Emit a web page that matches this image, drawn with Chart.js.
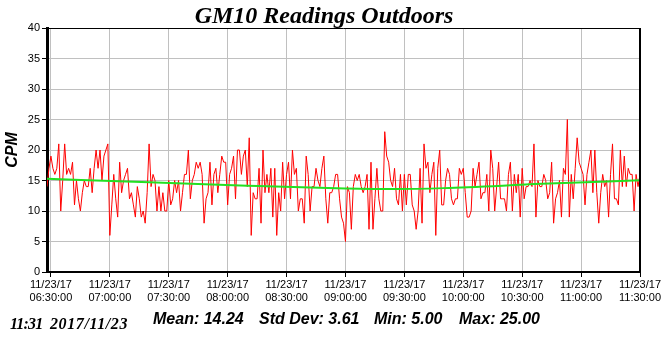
<!DOCTYPE html>
<html>
<head>
<meta charset="utf-8">
<script src="https://cdn.jsdelivr.net/npm/chart.js@4.4.0/dist/chart.umd.min.js"></script>
<style>
    html, body { margin: 0; padding: 0; background: #fff; }
    #wrap { position: relative; width: 661px; height: 337px; overflow: hidden; }
    canvas { position: absolute; left: 0; top: 0; }
    .txt { position: absolute; white-space: pre; color: #000; }
    #title { left: 0; width: 648px; top: 3px; text-align: center; font: bold italic 24px/24px "Liberation Serif", serif; }
    .stamp { top: 316px; font: bold italic 16px/16px "Liberation Serif", serif; }
    .stat { top: 311px; font: bold italic 16px/16px "Liberation Sans", Arial, sans-serif; }
</style>
</head>
<body>
<div id="wrap">
    <canvas id="gmChart" width="661" height="337"></canvas>
    <div id="title" class="txt">GM10 Readings Outdoors</div>
    <div class="txt stamp" style="left:10px; letter-spacing:-0.8px">11:31</div>
    <div class="txt stamp" style="left:50px; letter-spacing:0.6px">2017/11/23</div>
    <div class="txt stat" style="left:153px">Mean: 14.24</div>
    <div class="txt stat" style="left:259px">Std Dev: 3.61</div>
    <div class="txt stat" style="left:374px">Min: 5.00</div>
    <div class="txt stat" style="left:459px">Max: 25.00</div>
</div>
<script>
// Readings, one per minute, first one at 06:28 (minute -2 from 06:30)
const startMinute = -2;
const readings = [
    14,17,19,17,16,17,21,10,15,21,16,17,16,18,11,15,12,10,13,15,14,14,17,13,17,20,17,20,15,19,20,21,6,
    11,16,12,9,18,13,15,16,17,12,13,11,9,14,12,9,10,8,13,21,14,16,
    15,10,14,10,13,10,10,15,11,12,15,13,15,10,13,16,16,20,12,15,16,18,17,18,16,8,12,13,18,
    11,16,17,13,16,19,18,18,11,16,17,19,12,20,20,16,19,20,14,22,6,
    13,12,12,17,8,20,13,16,13,17,9,17,6,13,10,18,12,16,18,12,20,16,17,10,12,12,8,19,16,10,
    14,14,17,15,14,17,19,12,8,13,13,14,16,16,12,9,8,5,14,13,
    7,14,16,15,16,14,13,14,16,7,18,7,12,17,12,10,10,23,19,18,15,14,17,12,11,16,10,16,11,16,
    16,11,10,7,10,17,8,21,17,18,13,16,18,6,17,20,11,11,15,17,16,
    12,11,12,12,17,16,17,13,9,9,10,17,14,16,18,12,13,13,16,10,20,17,10,14,18,12,12,12,10,
    16,18,10,16,13,16,9,17,12,14,14,15,14,21,9,15,14,14,16,15,12,
    13,18,8,12,13,15,9,17,16,25,9,16,12,17,22,18,17,16,11,16,18,20,13,20,13,8,13,16,14,15,
    9,16,21,12,12,11,20,14,19,14,17,16,16,10,16,14,16
];

// Smoothed trend (green)
const trendMinutes = [-2, 50, 100, 150, 175, 200, 250, 300];
const trendValues = [15.3, 14.7, 14.15, 13.7, 13.6, 13.75, 14.45, 15.05];

// X axis ticks (minutes from 06:30) and their labels
const xTickMinutes = [0, 30, 60, 90, 120, 150, 180, 210, 240, 270, 300];
const xTickLabels = [
    ['11/23/17', '06:30:00'], ['11/23/17', '07:00:00'], ['11/23/17', '07:30:00'],
    ['11/23/17', '08:00:00'], ['11/23/17', '08:30:00'], ['11/23/17', '09:00:00'],
    ['11/23/17', '09:30:00'], ['11/23/17', '10:00:00'], ['11/23/17', '10:30:00'],
    ['11/23/17', '11:00:00'], ['11/23/17', '11:30:00']
];

const readingPoints = readings.map((v, i) => ({ x: startMinute + i, y: v }));
const trendPoints = trendMinutes.map((m, i) => ({ x: m, y: trendValues[i] }));

// black frame on top and right of the plot
const framePlugin = {
    id: 'framePlugin',
    afterDraw(chart) {
        const { ctx, chartArea: { top, bottom, left, right } } = chart;
        ctx.save();
        ctx.strokeStyle = '#000';
        ctx.lineWidth = 1;
        ctx.beginPath();
        ctx.moveTo(left, top + 0.5);
        ctx.lineTo(right, top + 0.5);
        ctx.stroke();
        ctx.lineWidth = 2;
        ctx.beginPath();
        ctx.moveTo(right, top);
        ctx.lineTo(right, bottom);
        ctx.stroke();
        ctx.restore();
    }
};

const tickFont = { family: '"Liberation Sans", Arial, sans-serif', size: 11 };

new Chart(document.getElementById('gmChart'), {
    type: 'scatter',
    data: {
        datasets: [
            {
                label: 'Trend',
                data: trendPoints,
                showLine: true,
                borderColor: '#22e022',
                borderWidth: 2,
                pointRadius: 0,
                cubicInterpolationMode: 'monotone'
            },
            {
                label: 'CPM',
                data: readingPoints,
                showLine: true,
                borderColor: '#ff0000',
                borderWidth: 1,
                pointRadius: 0,
                tension: 0
            }
        ]
    },
    options: {
        responsive: false,
        animation: false,
        devicePixelRatio: 1,
        layout: { padding: { left: 0, right: 21, top: 28, bottom: 25 } },
        scales: {
            x: {
                type: 'linear',
                min: startMinute,
                max: 300,
                afterBuildTicks: (scale) => {
                    scale.ticks = xTickMinutes.map(value => ({ value }));
                },
                afterFit: (scale) => {
                    scale.height = 40;
                    scale.paddingLeft = 0;
                    scale.paddingRight = 0;
                },
                ticks: {
                    color: '#000',
                    font: tickFont,
                    maxRotation: 0,
                    autoSkip: false,
                    padding: 1,
                    callback: (value, index) => xTickLabels[index]
                },
                grid: { color: '#c0c0c0', tickColor: '#000', tickLength: 5 },
                border: { color: '#000', width: 2 }
            },
            y: {
                min: 0,
                max: 40,
                afterFit: (scale) => { scale.width = 47; },
                ticks: { stepSize: 5, color: '#000', font: tickFont, padding: 2 },
                grid: { color: '#c0c0c0', tickColor: '#000', tickLength: 5 },
                border: { color: '#000', width: 3 },
                title: {
                    display: true,
                    text: 'CPM',
                    color: '#000',
                    font: { family: '"Liberation Sans", Arial, sans-serif', size: 16, weight: 'bold', style: 'italic' },
                    padding: { top: 3, bottom: 0 }
                }
            }
        },
        plugins: {
            legend: { display: false },
            tooltip: { enabled: false }
        }
    },
    plugins: [framePlugin]
});
</script>
</body>
</html>
